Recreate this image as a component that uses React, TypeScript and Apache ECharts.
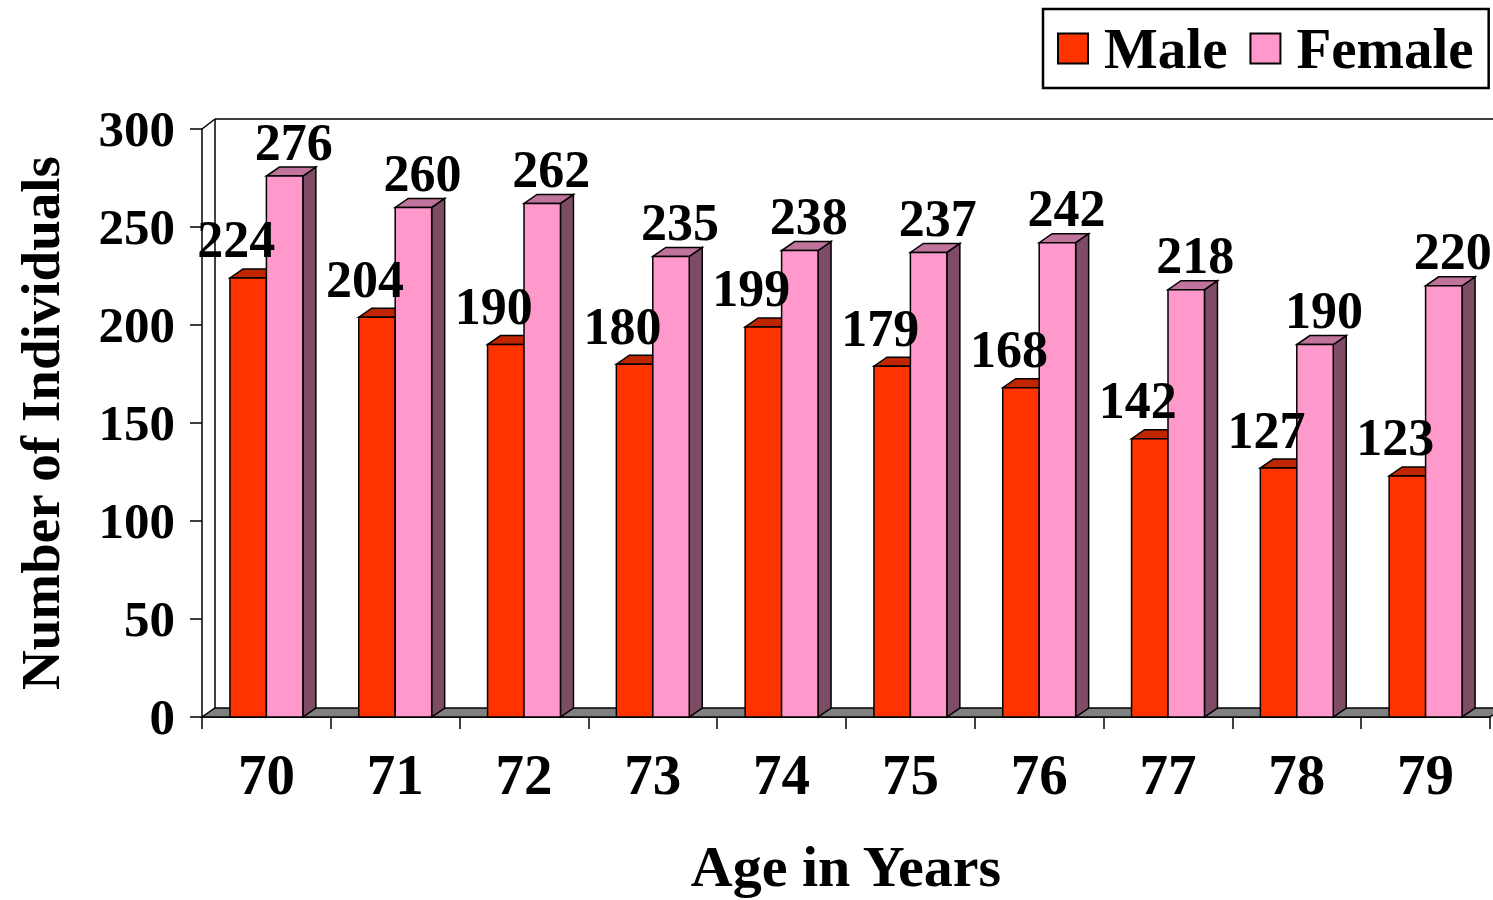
import React, { useEffect, useRef } from "react";
import * as echarts from "echarts";

const categories = ["70", "71", "72", "73", "74", "75", "76", "77", "78", "79"];
const maleValues = [224, 204, 190, 180, 199, 179, 168, 142, 127, 123];
const femaleValues = [276, 260, 262, 235, 238, 237, 242, 218, 190, 220];
const yMin = 0;
const yMax = 300;
const yInterval = 50;

const FONT = '"Liberation Serif", "Times New Roman", Times, serif';

const MALE = { front: "#FF3300", top: "#BF2600", side: "#8C1C00" };
const FEMALE = { front: "#FF99CC", top: "#C0749C", side: "#7F4C66" };

const DX = 13;
const DY = 9;

function makeBarRenderer(isMale: boolean, colors: any, labelDx: number, labelDy: number) {
  return (params: any, api: any) => {
    const idx = api.value(0);
    const val = api.value(1);
    const topPt = api.coord([idx, val]);
    const basePt = api.coord([idx, 0]);
    const band = api.size([1, 0])[0];
    const w = band * 0.283;
    const x = isMale ? topPt[0] - w : topPt[0];
    const yt = topPt[1];
    const yb = basePt[1];
    const z2 = isMale ? 10 : 20;
    const ls = { stroke: "#000", lineWidth: 1.5, lineJoin: "miter" };
    return {
      type: "group",
      children: [
        {
          type: "polygon",
          z2,
          shape: { points: [[x + w, yt], [x + w + DX, yt - DY], [x + w + DX, yb - DY], [x + w, yb]] },
          style: { fill: colors.side, ...ls },
        },
        {
          type: "polygon",
          z2,
          shape: { points: [[x, yt], [x + w, yt], [x + w + DX, yt - DY], [x + DX, yt - DY]] },
          style: { fill: colors.top, ...ls },
        },
        {
          type: "rect",
          z2,
          shape: { x, y: yt, width: w, height: yb - yt },
          style: { fill: colors.front, ...ls },
        },
        {
          type: "text",
          z2: 50,
          x: x + w / 2 + labelDx,
          y: yt + labelDy,
          style: {
            text: String(val),
            fontFamily: FONT,
            fontWeight: "bold",
            fontSize: 52,
            fill: "#000",
            align: "center",
            verticalAlign: "middle",
          },
        },
      ],
    };
  };
}

function renderFrame(params: any, api: any) {
  const cs = params.coordSys;
  const x0 = cs.x;
  const x1 = cs.x + cs.width;
  const y0 = cs.y;
  const yb = cs.y + cs.height;
  const wx = 13;
  const wy = 10;
  const ls = { stroke: "#000", lineWidth: 1.5, fill: null };
  return {
    type: "group",
    children: [
      {
        type: "polygon",
        z2: 1,
        shape: { points: [[x0, yb], [x1, yb], [x1 + wx, yb - DY], [x0 + wx, yb - DY]] },
        style: { fill: "#808080", stroke: "#000", lineWidth: 1.5 },
      },
      { type: "line", z2: 1, shape: { x1: x0 + wx, y1: yb - DY, x2: x0 + wx, y2: y0 - wy }, style: ls },
      { type: "line", z2: 1, shape: { x1: x0 + wx, y1: y0 - wy, x2: x1 + wx, y2: y0 - wy }, style: ls },
      { type: "line", z2: 1, shape: { x1: x0, y1: y0, x2: x0 + wx, y2: y0 - wy }, style: ls },
    ],
  };
}

export default function App() {
  const ref = useRef<HTMLDivElement>(null);
  useEffect(() => {
    document.body.style.margin = "0";
    if (!ref.current) return;
    const chart = echarts.init(ref.current, null, { renderer: "svg" });
    const axisText = { fontFamily: FONT, fontWeight: "bold", color: "#000" };
    chart.setOption({
      animation: false,
      backgroundColor: "#fff",
      grid: { left: 202, right: 3, top: 129, bottom: 180, containLabel: false },
      legend: {
        left: 1043,
        top: 9,
        padding: [11, 15, 11, 14],
        itemWidth: 52,
        itemHeight: 30,
        itemGap: 22,
        selectedMode: false,
        icon: "path://M0,0L10,0L10,10L0,10Z",
        borderColor: "#000",
        borderWidth: 2.5,
        itemStyle: { borderColor: "#000", borderWidth: 2 },
        textStyle: { ...axisText, fontSize: 57, lineHeight: 56 },
        data: ["Male", "Female"],
      },
      xAxis: {
        type: "category",
        data: categories,
        boundaryGap: true,
        axisLine: { show: true, lineStyle: { color: "#000", width: 1.5 } },
        axisTick: { show: true, length: 12, alignWithLabel: false, lineStyle: { color: "#000", width: 1.5 } },
        axisLabel: { ...axisText, fontSize: 57, lineHeight: 57, margin: 29, interval: 0 },
        splitLine: { show: false },
        name: "Age in Years",
        nameLocation: "middle",
        nameGap: 120,
        nameTextStyle: { ...axisText, fontSize: 58, lineHeight: 58 },
      },
      yAxis: {
        type: "value",
        min: yMin,
        max: yMax,
        interval: yInterval,
        axisLine: { show: true, lineStyle: { color: "#000", width: 1.5 } },
        axisTick: { show: true, length: 12, lineStyle: { color: "#000", width: 1.5 } },
        axisLabel: { ...axisText, fontSize: 51, margin: 27 },
        splitLine: { show: false },
        name: "Number of Individuals",
        nameLocation: "middle",
        nameGap: 134,
        nameTextStyle: { ...axisText, fontSize: 55, lineHeight: 55 },
      },
      series: [
        {
          type: "custom",
          name: "frame",
          renderItem: renderFrame,
          data: [[0, 0]],
          encode: { x: 0, y: 1 },
          silent: true,
          z: 2,
        },
        {
          type: "custom",
          name: "Male",
          itemStyle: { color: MALE.front },
          renderItem: makeBarRenderer(true, MALE, -12, -38),
          data: maleValues.map((v, i) => [i, v]),
          encode: { x: 0, y: 1 },
          z: 2,
        },
        {
          type: "custom",
          name: "Female",
          itemStyle: { color: FEMALE.front },
          renderItem: makeBarRenderer(false, FEMALE, 9, -34),
          data: femaleValues.map((v, i) => [i, v]),
          encode: { x: 0, y: 1 },
          z: 2,
        },
      ],
    });
    return () => chart.dispose();
  }, []);
  return (
    <div
      ref={ref}
      style={{ position: "absolute", left: 0, top: 0, width: 1493, height: 900 }}
    />
  );
}
